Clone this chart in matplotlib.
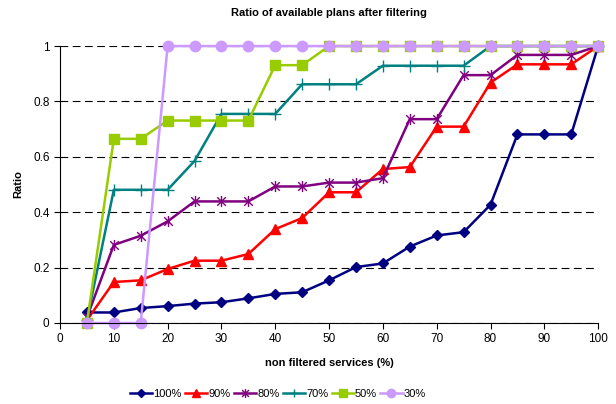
import numpy as np
import matplotlib
matplotlib.use('Agg')
import matplotlib.pyplot as plt
from matplotlib.path import Path

plt.rcParams['font.family'] = ['Liberation Sans', 'DejaVu Sans']

# percentage of non filtered services
services = [5, 10, 15, 20, 25, 30, 35, 40, 45, 50, 55, 60, 65, 70, 75, 80, 85, 90, 95, 100]

ratio_100 = [0.038, 0.038, 0.054, 0.061, 0.070, 0.075, 0.089, 0.105, 0.111, 0.154,
             0.202, 0.215, 0.276, 0.316, 0.328, 0.427, 0.681, 0.681, 0.681, 1.0]
ratio_90 = [0.01, 0.148, 0.154, 0.195, 0.225, 0.225, 0.249, 0.339, 0.379, 0.472,
            0.472, 0.556, 0.563, 0.709, 0.709, 0.868, 0.934, 0.934, 0.934, 1.0]
ratio_80 = [0.02, 0.282, 0.315, 0.367, 0.439, 0.439, 0.439, 0.493, 0.493, 0.507,
            0.507, 0.523, 0.736, 0.736, 0.895, 0.895, 0.968, 0.968, 0.968, 1.0]
ratio_70 = [0.01, 0.481, 0.481, 0.481, 0.585, 0.755, 0.755, 0.755, 0.862, 0.862,
            0.862, 0.929, 0.929, 0.929, 0.929, 1.0, 1.0, 1.0, 1.0, 1.0]
ratio_50 = [0.0, 0.665, 0.665, 0.731, 0.731, 0.731, 0.731, 0.931, 0.931, 1.0,
            1.0, 1.0, 1.0, 1.0, 1.0, 1.0, 1.0, 1.0, 1.0, 1.0]
ratio_30 = [0.0, 0.0, 0.0, 1.0, 1.0, 1.0, 1.0, 1.0, 1.0, 1.0,
            1.0, 1.0, 1.0, 1.0, 1.0, 1.0, 1.0, 1.0, 1.0, 1.0]

labels = ['100%', '90%', '80%', '70%', '50%', '30%']

# star marker: x with a vertical bar
star = Path([(-1, -1), (1, 1), (-1, 1), (1, -1), (0, -1.3), (0, 1.3)],
            [Path.MOVETO, Path.LINETO, Path.MOVETO, Path.LINETO, Path.MOVETO, Path.LINETO])

styles = [
    dict(color='#000080', marker='D', ms=5.5),
    dict(color='#FF0000', marker='^', ms=7.5),
    dict(color='#800080', marker=star, ms=8, mew=1.0),
    dict(color='#008080', marker='+', ms=8, mew=1.0),
    dict(color='#99CC00', marker='s', ms=7),
    dict(color='#CC99FF', marker='o', ms=7.5),
]
series = [ratio_100, ratio_90, ratio_80, ratio_70, ratio_50, ratio_30]

fig = plt.figure(figsize=(6.16, 4.04), dpi=100)
ax = fig.add_axes([0.0974, 0.2005, 0.8736, 0.6855])

for y, lab, st in zip(series, labels, styles):
    ax.plot(services, y, lw=1.8, label=lab, clip_on=False, **st)

ax.set_xlim(0, 100)
ax.set_ylim(0, 1)
ax.set_xticks(np.arange(0, 101, 10))
ax.set_yticks([0, 0.2, 0.4, 0.6, 0.8, 1.0])
ax.set_yticklabels(['0', '0.2', '0.4', '0.6', '0.8', '1'])
ax.tick_params(labelsize=8.5, direction='out', length=4, width=0.8)
ax.yaxis.grid(True, color='black', linestyle=(0, (7, 4)), linewidth=0.8)
ax.set_axisbelow(True)
for side in ['top', 'right']:
    ax.spines[side].set_visible(False)

ax.set_title('Ratio of available plans after filtering', fontsize=8, fontweight='bold', pad=22)
ax.set_xlabel('non filtered services (%)', fontsize=8, fontweight='bold', labelpad=9)
ax.set_ylabel('Ratio', fontsize=8, fontweight='bold', labelpad=7)

leg = ax.legend(loc='center', bbox_to_anchor=(0.405, -0.255), ncol=6, frameon=False,
                fontsize=8, handlelength=2.0, handletextpad=0.1, columnspacing=0.3,
                markerscale=0.8)

fig.savefig('out.png', dpi=100)
